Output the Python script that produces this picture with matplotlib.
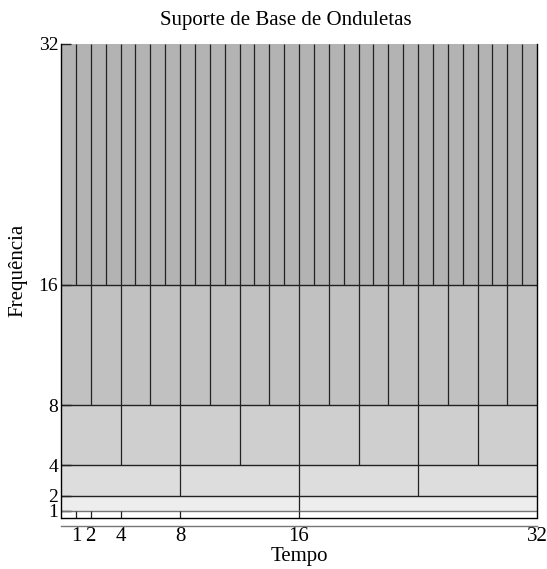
import matplotlib.pyplot as plt

# --- dados: bandas de frequência (oitavas) e largura das células no tempo ---
band_low = [1, 2, 4, 8, 16]
band_high = [2, 4, 8, 16, 32]
cell_width = [16, 8, 4, 2, 1]
band_color = ['#ededed', '#dddddd', '#cfcfcf', '#c1c1c1', '#b3b3b3']
ticks = [1, 2, 4, 8, 16, 32]
t_max = 32

plt.rcParams['font.family'] = ['Liberation Serif', 'DejaVu Serif']
FS = 15

fig = plt.figure(figsize=(5.47, 5.69), dpi=100)
ax = fig.add_axes([61 / 547, 1 - 525.7 / 569, 476 / 547, (525.7 - 44) / 569])
ax.set_xlim(0, t_max)
ax.set_ylim(0, 32)

# células de cada banda
for lo, hi, w, c in zip(band_low, band_high, cell_width, band_color):
    starts = list(range(0, t_max, w))
    ax.bar(starts, hi - lo, width=w, bottom=lo, align='edge', color=c, edgecolor='none', zorder=1)
    # divisões verticais entre células
    ax.vlines(starts[1:], lo, hi, colors='#222222', lw=0.9, zorder=2)
    ax.hlines(lo, 0, t_max, colors='#222222' if lo > 1 else '#777777', lw=1.0, zorder=2)

# faixa inferior com marcas de tempo
ax.hlines(0.5, 0, t_max, colors='black', lw=1.0, zorder=3)
ax.vlines(ticks[:-1], 0.5, 1, colors='#222222', lw=0.9, zorder=2)

# bordas
ax.spines['top'].set_visible(False)
ax.spines['left'].set_bounds(0.5, 32)
ax.spines['right'].set_bounds(0.5, 32)
ax.spines['bottom'].set_color('#777777')
ax.spines['bottom'].set_linewidth(1.0)
for s in ['left', 'right']:
    ax.spines[s].set_linewidth(1.0)
    ax.spines[s].set_zorder(4)

ax.set_xticks(ticks)
ax.set_xticklabels([str(t) for t in ticks])
ax.set_yticks(ticks)
ax.set_yticklabels([str(t) for t in ticks])
ax.tick_params(axis='x', length=0, pad=1, labelsize=FS)
ax.tick_params(axis='y', direction='in', length=7, width=1.0, color='#222222', pad=2, labelsize=14)

fig.text(299 / 547, 1 - 556 / 569, 'Tempo', ha='center', va='center', fontsize=FS)
fig.text(18 / 547, 1 - 270 / 569, 'Frequência', rotation=90, ha='center', va='center', fontsize=FS)
fig.text(286 / 547, 1 - 20 / 569, 'Suporte de Base de Onduletas', ha='center', va='center', fontsize=FS)

plt.savefig('out.png', dpi=100)
